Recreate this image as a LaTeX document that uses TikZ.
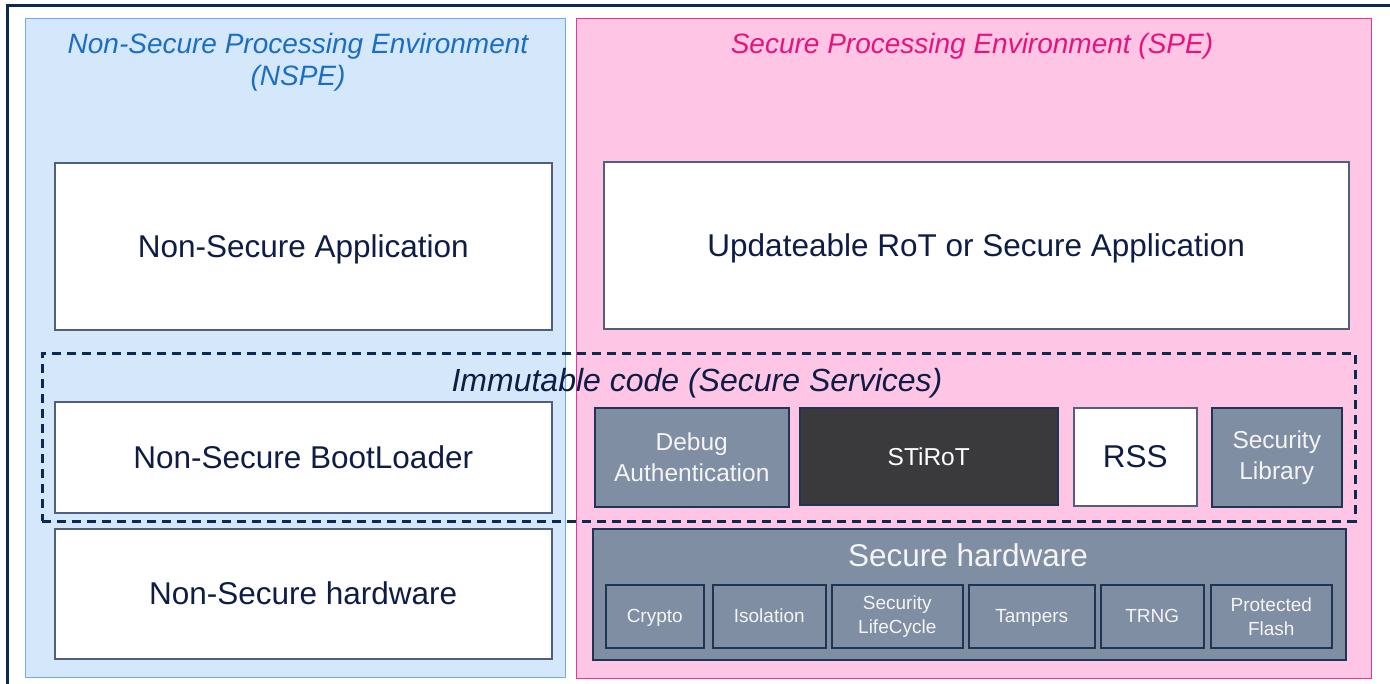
\documentclass[tikz,border=0pt]{standalone}
\usepackage{fontspec}
\setmainfont{Liberation Sans}
\definecolor{nsfill}{HTML}{D5E7FB}
\definecolor{nsline}{HTML}{6FABF2}
\definecolor{sfill}{HTML}{FFC5E5}
\definecolor{sline}{HTML}{E8359A}
\definecolor{nstitle}{HTML}{1A6FC4}
\definecolor{stitle}{HTML}{E8127D}
\definecolor{navy}{HTML}{0E1D45}
\definecolor{frame}{HTML}{0C2A50}
\definecolor{slate}{HTML}{4F5F7C}
\definecolor{greyfill}{HTML}{7F8EA3}
\definecolor{greyline}{HTML}{1F3556}
\definecolor{dark}{HTML}{3A3A3C}
\definecolor{lighttext}{HTML}{F4F4F4}
\newcommand{\bigfont}{\fontsize{31.5}{36}\selectfont}
\newcommand{\midfont}{\fontsize{24.5}{31}\selectfont}
\newcommand{\smallfont}{\fontsize{19}{24}\selectfont}
\newcommand{\titlefont}{\fontsize{28}{32}\selectfont\itshape}
\tikzset{
  envbox/.style={draw, line width=1.2pt, anchor=north west, inner sep=0pt},
  whitebox/.style={draw=slate, fill=white, line width=1.5pt, anchor=north west, inner sep=0pt, text=navy, font=\bigfont, align=center},
  greybox/.style={draw=greyline, fill=greyfill, line width=1.5pt, anchor=north west, inner sep=0pt, text=lighttext, font=\midfont, align=center},
  smallbox/.style={draw=greyline, fill=greyfill, line width=1.5pt, anchor=north west, inner sep=0pt, text=lighttext, font=\smallfont, align=center},
  bigone/.style={text height=28pt, text depth=6.5pt},
  midone/.style={text height=24pt, text depth=5pt},
  smallone/.style={text height=16pt, text depth=4pt},
  titleone/.style={text height=24.5pt, text depth=6pt},
  immbox/.style={draw=frame, dash pattern=on 9pt off 6pt, line width=2.5pt, anchor=north west, inner sep=0pt},
}
\begin{document}
\begin{tikzpicture}[x=1pt,y=-1pt]
\useasboundingbox (0,0) rectangle (1390,683);
\clip (0,0) rectangle (1390,683);
\fill[white] (0,0) rectangle (1390,683);
\draw[frame, line width=3pt] (1420,5) -- (7,5) -- (7,720);
% environments
\node[envbox, draw=nsline, fill=nsfill, minimum width=540pt, minimum height=659pt] (nspe) at (25,18) {};
\node[envbox, draw=sline, fill=sfill, minimum width=795pt, minimum height=660pt] (spe) at (576,18) {};
\node[text=nstitle, font=\titlefont, align=center] (nspetitle) at (298,62) {Non-Secure Processing Environment\\(NSPE)};
\node[text=stitle, font=\titlefont, titleone] (spetitle) at (972,44) {Secure Processing Environment (SPE)};
% top boxes
\node[whitebox, bigone, minimum width=497pt, minimum height=167pt] (nsapp) at (54,162) {Non-Secure Application};
\node[whitebox, bigone, minimum width=745pt, minimum height=167pt] (srot) at (603,161) {Updateable RoT or Secure Application};
% immutable region
\node[immbox, minimum width=1313pt, minimum height=168pt] (imm) at (41,352) {};
\node[text=navy, font=\fontsize{32}{36}\selectfont\itshape, bigone] (immlabel) at (697,381) {Immutable code (Secure Services)};
\node[whitebox, bigone, minimum width=497pt, minimum height=111pt] (nsbl) at (54,401) {Non-Secure BootLoader};
\node[greybox, minimum width=194pt, minimum height=99pt] (dbg) at (594,407) {Debug\\Authentication};
\node[greybox, midone, fill=dark, draw=greyline, text=white, minimum width=258pt, minimum height=97pt] (stirot) at (799,407) {STiRoT};
\node[whitebox, bigone, minimum width=123pt, minimum height=98pt] (rss) at (1073,407) {RSS};
\node[greybox, minimum width=130pt, minimum height=99pt] (seclib) at (1211,407) {Security\\Library};
% hardware
\node[whitebox, bigone, minimum width=497pt, minimum height=130pt] (nshw) at (54,528) {Non-Secure hardware};
\node[greybox, minimum width=753pt, minimum height=131pt] (shw) at (592,528) {};
\node[text=lighttext, font=\fontsize{31.5}{36}\selectfont, bigone] (shwlabel) at (968,556) {Secure hardware};
\node[smallbox, smallone, minimum width=98pt, minimum height=63pt] (crypto) at (605,584) {Crypto};
\node[smallbox, smallone, minimum width=113pt, minimum height=63pt] (iso) at (712,584) {Isolation};
\node[smallbox, minimum width=131pt, minimum height=63pt] (slc) at (831,584) {Security\\LifeCycle};
\node[smallbox, smallone, minimum width=126pt, minimum height=63pt] (tamp) at (968,584) {Tampers};
\node[smallbox, smallone, minimum width=103pt, minimum height=63pt] (trng) at (1100,584) {TRNG};
\node[smallbox, minimum width=121pt, minimum height=63pt] (pflash) at (1210,584) {Protected\\Flash};
\end{tikzpicture}
\end{document}
